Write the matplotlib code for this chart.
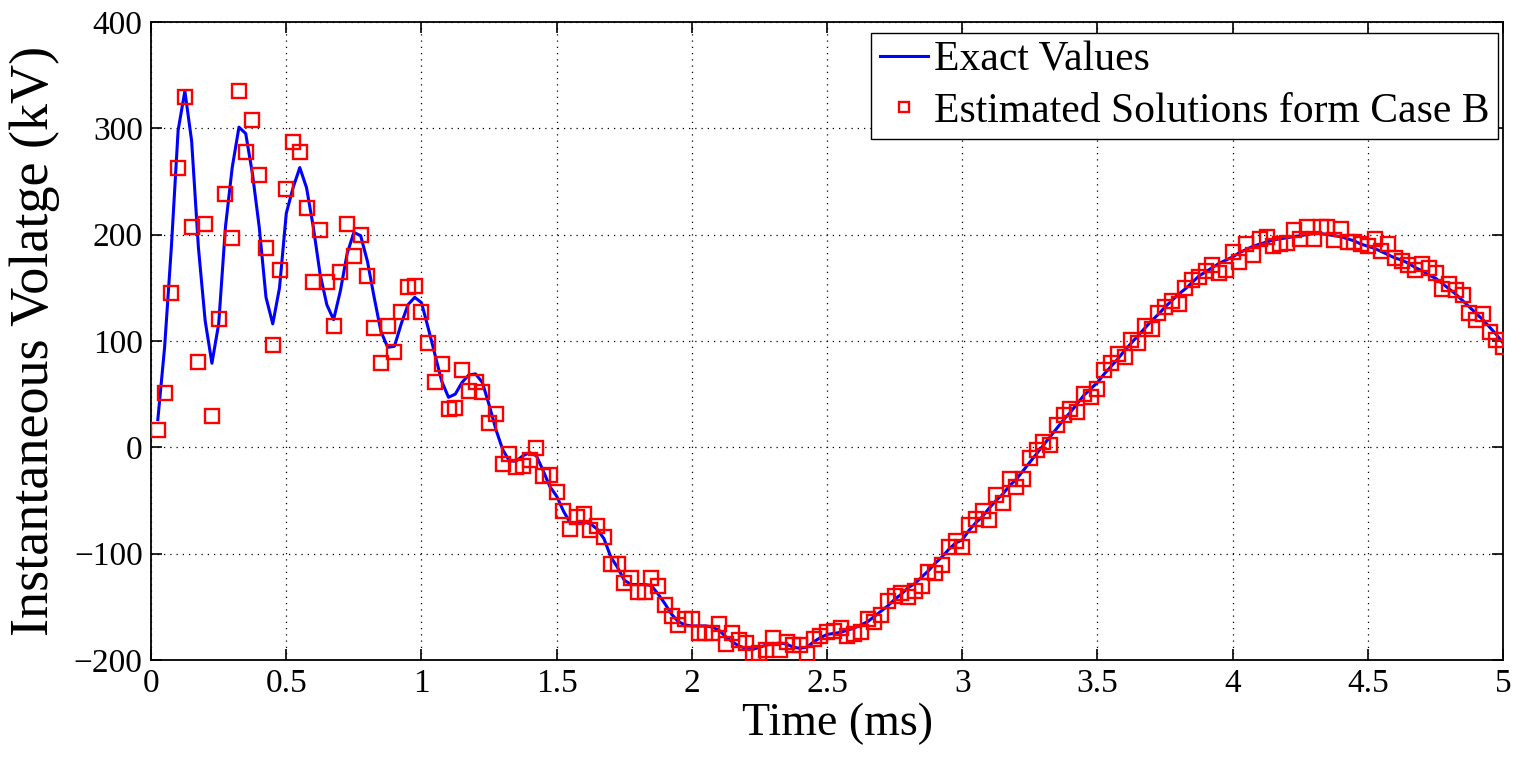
import numpy as np
import matplotlib
matplotlib.use("Agg")
import matplotlib.pyplot as plt

# sampling grid of the chart (ms), one point every 0.025 ms
time_step = 0.025
n_samples = 200

# estimated solutions (red squares), kV
estimated = [
    16, 51, 145, 263, 329, 207, 80, 210, 29, 121,
    238, 197, 335, 278, 308, 256, 187, 96, 167, 243,
    287, 278, 225, 155, 204, 155, 114, 165, 210, 180,
    200, 161, 112, 79, 114, 90, 127, 151, 152, 127,
    98, 61, 78, 36, 37, 73, 53, 61, 52, 23,
    31, -16, -6, -19, -18, -12, -1, -27, -26, -42,
    -60, -77, -66, -63, -78, -74, -84, -110, -110, -128,
    -123, -136, -136, -123, -130, -148, -159, -167, -161, -161,
    -175, -175, -175, -166, -185, -175, -181, -184, -194, -193,
    -191, -179, -191, -183, -186, -186, -194, -180, -177, -174,
    -173, -170, -177, -176, -174, -161, -164, -158, -145, -140,
    -137, -141, -135, -130, -117, -118, -111, -94, -88, -94,
    -73, -67, -60, -68, -45, -52, -30, -37, -30, -10,
    -3, 5, 2, 21, 30, 36, 33, 50, 47, 55,
    73, 79, 88, 85, 101, 98, 114, 111, 126, 132,
    138, 135, 150, 157, 160, 166, 171, 164, 167, 184,
    174, 191, 181, 196, 198, 189, 191, 192, 204, 196,
    207, 196, 207, 207, 195, 205, 193, 193, 191, 189,
    196, 185, 191, 178, 175, 171, 167, 172, 169, 164,
    149, 154, 148, 143, 126, 120, 125, 108, 101, 94,
]

# exact values (blue line), kV
exact = [
    26, 94, 188, 298, 335, 288, 188, 119, 79, 116,
    207, 263, 301, 295, 257, 207, 141, 116, 150, 220,
    244, 263, 244, 207, 163, 134, 120, 147, 182, 202,
    199, 175, 141, 109, 94, 95, 116, 134, 141, 136,
    112, 87, 62, 47, 50, 61, 68, 69, 61, 40,
    17, -2, -13, -13, -8, -5, -8, -22, -37, -46,
    -60, -71, -72, -70, -72, -77, -86, -103, -113, -125,
    -129, -129, -129, -130, -138, -147, -157, -164, -167, -168,
    -168, -168, -169, -172, -178, -183, -187, -189, -190, -188,
    -186, -185, -184, -185, -188, -189, -188, -183, -179, -176,
    -175, -174, -172, -170, -167, -164, -159, -154, -149, -143,
    -138, -132, -128, -122, -116, -109, -103, -96, -90, -87,
    -78, -71, -65, -57, -50, -44, -36, -30, -22, -14,
    -6, 2, 10, 18, 26, 33, 41, 49, 55, 61,
    69, 76, 83, 91, 98, 105, 112, 119, 125, 132,
    138, 144, 149, 155, 161, 165, 169, 173, 176, 179,
    183, 186, 189, 191, 193, 195, 196, 197, 198, 199,
    200, 201, 201, 200, 199, 198, 196, 194, 191, 189,
    187, 184, 181, 178, 176, 173, 169, 166, 162, 159,
    154, 149, 144, 138, 132, 126, 120, 113, 106, 98,
]

x_ticks = [0, 0.5, 1, 1.5, 2, 2.5, 3, 3.5, 4, 4.5, 5]
x_tick_labels = ['0', '0.5', '1', '1.5', '2', '2.5', '3', '3.5', '4', '4.5', '5']
y_ticks = [-200, -100, 0, 100, 200, 300, 400]
y_tick_labels = ['\u2212200', '\u2212100', '0', '100', '200', '300', '400']


def main():
    plt.rcParams['font.family'] = ['Liberation Serif', 'DejaVu Serif']

    t = np.arange(1, n_samples + 1) * time_step

    fig = plt.figure(figsize=(15.26, 7.6), dpi=100)
    ax = fig.add_axes([0.099, 0.1316, 0.886, 0.8396])

    ax.plot(t, exact, color='#0000ff', lw=2.2, label='Exact Values', zorder=3)
    ax.plot(t, estimated, linestyle='none', marker='s', markersize=9.5,
            markerfacecolor='none', markeredgecolor='#ff0000', markeredgewidth=1.7,
            label='Estimated Solutions form Case B', zorder=4)

    ax.set_xlim(0, 5)
    ax.set_ylim(-200, 400)
    ax.set_xticks(x_ticks)
    ax.set_xticklabels(x_tick_labels)
    ax.set_yticks(y_ticks)
    ax.set_yticklabels(y_tick_labels)

    ax.grid(True, color='black', linestyle=(0, (1, 4)), linewidth=0.9)
    ax.tick_params(direction='in', length=8, width=1.2, top=True, right=True,
                   labelsize=24, pad=6)
    for sp in ax.spines.values():
        sp.set_linewidth(1.3)

    ax.set_xlabel('Time (ms)', fontsize=33, va='top')
    ax.xaxis.set_label_coords(0.508, -0.066)
    ax.set_ylabel('Instantaneous Volatge (kV)', fontsize=39, labelpad=10)

    leg = ax.legend(loc='upper right', bbox_to_anchor=(0.996, 0.983), borderaxespad=0,
                    fontsize=30, fancybox=False, framealpha=1, edgecolor='black',
                    handlelength=1.15, handletextpad=0.15, borderpad=0.2,
                    labelspacing=0.3, markerscale=0.75)
    leg.get_frame().set_linewidth(1.0)

    fig.savefig('out.png', dpi=100)


if __name__ == '__main__':
    main()
